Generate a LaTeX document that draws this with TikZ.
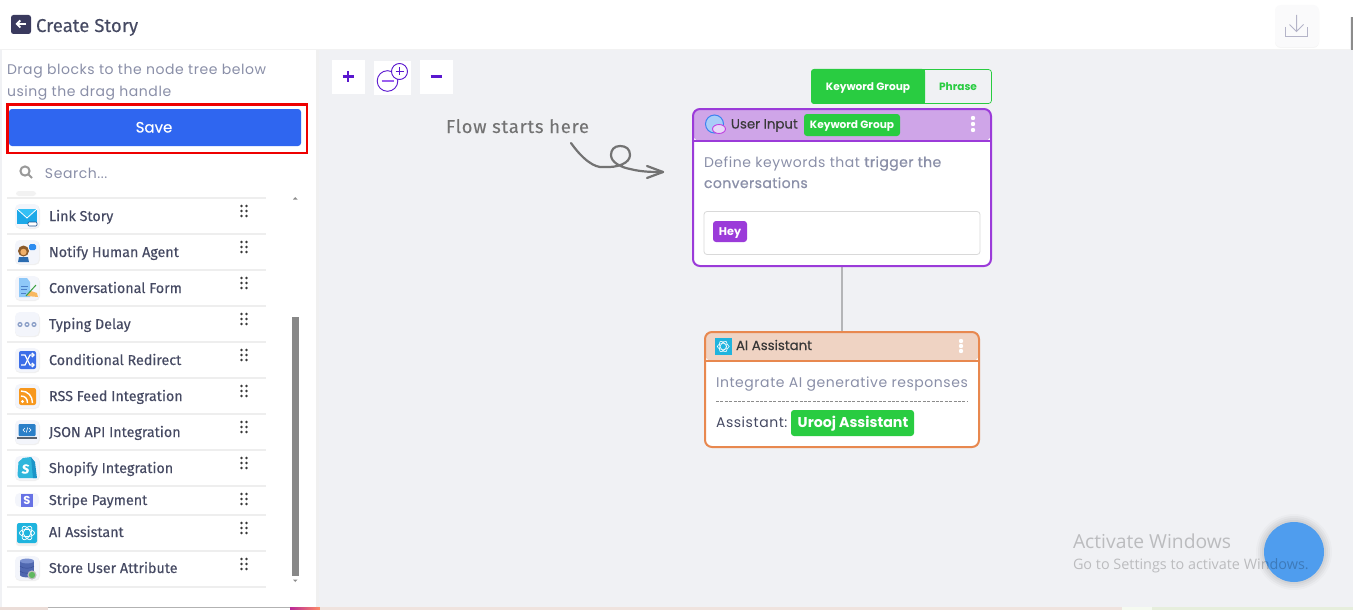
\documentclass[tikz,border=0pt]{standalone}
\usepackage{fontspec}
\setmainfont{Poppins}
\newfontfamily\pop{Poppins}
\newfontfamily\popm[FakeBold=0.25]{Poppins}
\newfontfamily\popls[LetterSpace=4]{Poppins}
\newfontfamily\poplsb[LetterSpace=3,FakeBold=0.7]{Poppins}
\newfontfamily\fira[FakeBold=0.25]{Fira Sans}
\newfontfamily\flowf[LetterSpace=4,FakeBold=0.1]{Fira Sans}
\newfontfamily\win{Open Sans}
\usetikzlibrary{arrows.meta}
\definecolor{canvas}{HTML}{F0F1F4}
\definecolor{grn}{HTML}{29CC41}
\definecolor{purp}{HTML}{9B3BD9}
\definecolor{purphd}{HTML}{CFA5E8}
\definecolor{orng}{HTML}{E8884F}
\definecolor{ornghd}{HTML}{EFD3C3}
\definecolor{blu}{HTML}{2F66F0}
\definecolor{mut}{HTML}{8A8FA8}
\definecolor{ink}{HTML}{464A63}
\definecolor{indi}{HTML}{5A17CF}
\definecolor{sep}{HTML}{EEEEEE}
\definecolor{tile}{HTML}{F3F5FB}
\definecolor{teal}{HTML}{1FB4DE}
\definecolor{bubA}{HTML}{A8CDF8}
\definecolor{bubB}{HTML}{E8D8F8}
\tikzset{
  HTML/.code={\definecolor{tmpc}{HTML}{#1}\tikzset{color=tmpc}},
  txt/.style={anchor=base west,inner sep=0pt,outer sep=0pt},
  ctxt/.style={anchor=base,inner sep=0pt,outer sep=0pt},
  desc/.style={txt,text=mut,font=\popls\fontsize{14}{14}\selectfont},
  menu/.style={txt,text=ink,font=\fira\fontsize{14.3}{14}\selectfont},
  hdtitle/.style={txt,text=black!78,font=\popm\fontsize{13.3}{14}\selectfont},
  tag/.style={ctxt,text=white,font=\pop\bfseries\fontsize{10.6}{12}\selectfont},
  conn/.style={draw=black!25!canvas,line width=1.6pt},
}
\newcommand{\griphandle}[2]{%
  \foreach \dy in {-5,0,5}{\foreach \dx in {-2.5,2.5}{\fill[black!78] (#1+\dx,#2+\dy) circle (1.45);}}}
\newcommand{\menutile}[1]{%
  \fill[black!6,rounded corners=5] (15,#1-11) rectangle (40,#1+13);
  \fill[tile,rounded corners=5] (15,#1-12) rectangle (39,#1+12);}
\begin{document}
\begin{tikzpicture}[x=1pt,y=-1pt]
\useasboundingbox (0,0) rectangle (1353,610);
% backgrounds
\fill[canvas] (0,0) rectangle (1353,610);
\fill[white] (0,0) rectangle (1350,49);
\fill[white] (1350,0) rectangle (1353,17);
\fill[black!45] (1350.5,17) rectangle (1353,50);
\fill[black!5] (0,49) rectangle (1350,50.5);
\fill[white] (2,50) rectangle (316,607);
\fill[black!6] (316,50) rectangle (319,607);
% bottom strip
\fill[HTML=EBDDD8] (0,607) rectangle (48,610);
\fill[white] (48,607) rectangle (290,610);
\fill[black!30] (48,607) rectangle (290,608);
\shade[left color=purp!70!red,right color=red!50!orange!60] (290,607) rectangle (320,610);
\fill[HTML=EFE3DE] (320,607) rectangle (1122,610);
\fill[HTML=E6EEDC] (1122,607) rectangle (1353,610);
\fill[HTML=F5FAF0] (1122,607) rectangle (1152,610);
% top bar
\fill[HTML=3A3A5E,rounded corners=2.5] (11,15) rectangle (31,34);
\draw[white,line width=1.8pt,-{Straight Barb[length=3.5pt,width=7pt]}] (26,24) -- (15.5,24);
\node[txt,text=ink,font=\fira\fontsize{18.6}{18}\selectfont] (title) at (36,32) {Create Story};
\fill[black!4,rounded corners=6] (1275,6) rectangle (1319,48);
\fill[HTML=FAFAFB,rounded corners=6] (1275,5) rectangle (1319,47);
\draw[HTML=B4B4C8,line width=1pt] (1285.5,27) -- (1285.5,36.5) -- (1307.5,36.5) -- (1307.5,27);
\draw[HTML=B4B4C8,line width=1pt] (1296.5,15) -- (1296.5,31.5) (1289.5,24.5) -- (1296.5,31.5) -- (1303.5,24.5);
% sidebar header
\node[desc] (drag1) at (7,75) {Drag blocks to the node tree below};
\node[desc] (drag2) at (7,96) {using the drag handle};
\draw[HTML=EE0000,line width=2.6pt] (7.3,104.3) rectangle (307,152.8);
\fill[blu,rounded corners=3] (9,109) rectangle (301,146);
\node[ctxt,text=white,font=\popm\fontsize{15}{15}\selectfont] (save) at (154,132.5) {Save};
\draw[black!40,line width=2pt] (25,171) circle (4.6) (28.5,174.5) -- (32,178);
\node[txt,text=mut,font=\popls\fontsize{14}{14}\selectfont] (search) at (45,178) {Search...};
% separators
\foreach \yy in {198,234,270,306,342,378,414,450,486,515,551,587}
  \fill[sep] (7,\yy-1) rectangle (266,\yy+1);
\fill[black!5,rounded corners=3] (16,191) rectangle (36,196);
% scrollbar
\fill[HTML=888888] (292,317) rectangle (299,576);
\fill[black!45] (293,199.5) -- (297.5,199.5) -- (295.25,197) -- cycle;
\fill[black!45] (293,579.5) -- (297.5,579.5) -- (295.25,582) -- cycle;
% menu rows
\foreach \nm/\lab/\yy/\hy in {
  a/Link Story/216/211,
  b/Notify Human Agent/252/247,
  c/Conversational Form/288/283,
  d/Typing Delay/324/319,
  e/Conditional Redirect/360/355,
  f/RSS Feed Integration/396/391,
  g/JSON API Integration/432/427,
  h/Shopify Integration/468/463,
  i/Stripe Payment/500/499,
  j/AI Assistant/532/528,
  k/Store User Attribute/568/564}{
  \node[menu] (row\nm) at (49,\yy+5) {\lab};
  \griphandle{244}{\hy}
}
% icons: Link Story
\menutile{216}
\fill[HTML=1CA8E8] (17,209) rectangle (37,224);
\fill[HTML=35C0F5] (17,209) -- (27,218) -- (37,209) -- cycle;
\draw[white,line width=.8pt] (17,209) -- (27,218) -- (37,209);
\draw[HTML=1B4F8A,fill=white,line width=.7pt,rounded corners=1] (28,222) rectangle (37,226);
% Notify Human Agent
\menutile{252}
\fill[HTML=8A5A2B] (23.5,251) circle (5.5);
\fill[HTML=F0B06A] (23.5,252) circle (3.2);
\fill[HTML=2B6CB0] (18,262) -- (19,257) -- (28,257) -- (29,262) -- cycle;
\fill[HTML=2D8CF0,rounded corners=1.5] (29,244) rectangle (36,250);
% Conversational Form
\menutile{288}
\fill[HTML=8EC8F8] (19,278) -- (27,278) -- (30,282) -- (30,297) -- (19,297) -- cycle;
\draw[HTML=4A80C8,line width=.8pt] (21,286) -- (28,286) (21,289.5) -- (27,289.5) (21,293) -- (26,293);
\fill[HTML=F8B860] (27,296) -- (31,291) -- (37,293) -- (38,297) -- cycle;
\draw[HTML=3CA040,line width=1pt] (26,296) -- (36,285);
% Typing Delay
\menutile{324}
\foreach \dx in {20,27,34}{\fill[HTML=8CA0C8] (\dx,324.5) circle (2.6);\fill[tile] (\dx,324.5) circle (1.1);}
% Conditional Redirect
\menutile{360}
\fill[HTML=3D6FE8,rounded corners=2] (19,351) rectangle (36,369);
\draw[white,line width=1.3pt,-{Straight Barb[length=2.2pt,width=4pt]}] (21,355) -- (25,355) -- (30,365) -- (35,365);
\draw[white,line width=1.3pt,-{Straight Barb[length=2.2pt,width=4pt]}] (21,365) -- (25,365) -- (30,355) -- (35,355);
% RSS
\menutile{396}
\fill[HTML=F7981D,rounded corners=2] (19,388) rectangle (36,405);
\fill[white] (22.5,401.5) circle (1.6);
\draw[white,line width=1.4pt] (21,396) .. controls (25,396) and (27.5,398.5) .. (27.5,403);
\draw[white,line width=1.4pt] (21,391) .. controls (28,391) and (32.5,396) .. (32.5,403);
% JSON
\menutile{432}
\fill[HTML=2A7FC8,rounded corners=1] (18.5,424) rectangle (35.5,436);
\draw[white,line width=.6pt] (25,428) -- (23,430) -- (25,432) (29,428) -- (31,430) -- (29,432) (27.7,427.5) -- (26.3,432.5);
\fill[HTML=5A6470] (17,436.5) rectangle (37,439);
% Shopify
\menutile{468}
\fill[HTML=2FB6DC] (18.5,462) -- (23,458) -- (31,457) -- (36,478) -- (19,478) -- (17.5,475) -- cycle;
\fill[HTML=1A94C8] (31,457) -- (35,462) -- (37,478) -- (33,478) -- cycle;
\node[ctxt,text=white,font=\fira\bfseries\itshape\fontsize{13}{13}\selectfont] (shopS) at (25.5,473.5) {S};
% Stripe
\fill[tile,rounded corners=5] (15,493) rectangle (39,507);
\fill[HTML=6772E5] (21,493.5) rectangle (33,506.5);
\node[ctxt,text=white,font=\pop\bfseries\fontsize{11.5}{12}\selectfont] (stripeS) at (27,504) {S};
% AI Assistant menu icon
\fill[black!6,rounded corners=3] (16,524) rectangle (38,546);
\fill[teal,rounded corners=2] (17,523) rectangle (37,543);
\foreach \a in {0,60,120}{\draw[white,line width=.7pt,rotate around={\a:(27,533)}] (27,533) ellipse [x radius=7.5,y radius=3.6];}
% Store User Attribute
\menutile{568}
\fill[HTML=5068B0] (20,561) rectangle (34,575);
\fill[HTML=5068B0] (27,575) ellipse [x radius=7,y radius=2.4];
\fill[HTML=7A90D0] (27,561) ellipse [x radius=7,y radius=2.4];
\draw[HTML=3A5098,line width=.5pt] (20,566) .. controls (22,569) and (32,569) .. (34,566) (20,571) .. controls (22,574) and (32,574) .. (34,571);
\fill[black!25] (32,575) circle (4.6);
\fill[HTML=60B860] (32,575) circle (3.2);
% zoom controls
\fill[white] (332,60) rectangle (365,94);
\draw[indi,line width=2.2pt] (342.5,76.5) -- (353.5,76.5) (348,71) -- (348,82);
\fill[white] (374,61) rectangle (411,95);
\draw[indi,line width=.9pt,fill=white] (387.5,81) circle (10.3);
\draw[HTML=9A60EE,line width=1.4pt] (381.5,81) -- (393.5,81);
\draw[indi,line width=.9pt,fill=white] (399.5,71.5) circle (8);
\draw[indi,line width=1.2pt] (395.5,71.5) -- (403.5,71.5) (399.5,67.5) -- (399.5,75.5);
\fill[white] (420,60) rectangle (453,94);
\draw[indi,line width=2.2pt] (430.5,76.5) -- (441.5,76.5);
% flow label and arrow
\node[txt,text=black!55,font=\flowf\fontsize{18.5}{18}\selectfont] (flow) at (446,133) {Flow starts here};
\coordinate (flowstart) at (571,143);
\coordinate (flowend) at (663,172);
\draw[black!55,line width=2.2pt,line cap=round,line join=round] (flowstart) .. controls (583,160) and (595,168) .. (603,167) .. controls (618,168) and (630,163) .. (630,155) .. controls (630,149) and (626,146) .. (620,146) .. controls (614,146) and (611,150) .. (611,155) .. controls (611,162) and (620,167) .. (630,169) .. controls (642,172) and (652,172) .. (flowend);
\draw[black!55,line width=2.2pt,line cap=round,line join=round] (647,166) -- (flowend) -- (647,178);
% connector
\coordinate (ui) at (842,266);
\coordinate (ai) at (842,332);
\draw[conn] (ui) -- (ai);
% toggle
\fill[black!5,rounded corners=3] (811,70) rectangle (992,106);
\draw[grn,fill=canvas,rounded corners=3,line width=.7pt] (811.5,69.5) rectangle (991.5,103.5);
\fill[grn,rounded corners=3] (811,69) rectangle (925,104);
\fill[grn] (915,69) rectangle (925,104);
\node[ctxt,text=white,font=\pop\bfseries\fontsize{10.6}{12}\selectfont] (tgk) at (868,90.5) {Keyword Group};
\node[ctxt,text=grn,font=\pop\bfseries\fontsize{10.6}{12}\selectfont] (tgp) at (958,90.5) {Phrase};
% User Input card
\fill[white,rounded corners=7] (693,109) rectangle (991,266);
\begin{scope}
\clip[rounded corners=7] (693,109) rectangle (991,141);
\fill[purphd] (693,109) rectangle (991,141);
\end{scope}
\draw[purp,line width=2pt,rounded corners=7] (693,109) rectangle (991,266);
\draw[purp,line width=2pt] (693,141) -- (991,141);
\draw[HTML=3C82F0,line width=1pt,fill=bubA] (714.5,124) circle (9);
\draw[HTML=C040E0,line width=.9pt,fill=bubB] (719,129) ellipse [x radius=6.5,y radius=4.5];
\node[hdtitle] (uititle) at (731,128.5) {User Input};
\fill[grn,rounded corners=3] (804,114) rectangle (900,136);
\node[tag] (uitag) at (852,128.5) {Keyword Group};
\foreach \yy in {118,124,130}\fill[white] (973,\yy) circle (2.2);
\node[desc] (uid1) at (704,167) {Define keywords that {\poplsb trigger the}};
\node[desc] (uid2) at (704,188) {{\poplsb conversations}};
\draw[black!15,fill=white,rounded corners=3,line width=.8pt] (704,211.5) rectangle (980,254.5);
\fill[purp,rounded corners=3] (713,221) rectangle (747,242);
\node[tag,font=\pop\bfseries\fontsize{11.2}{12}\selectfont] (hey) at (730,235.5) {Hey};
% AI Assistant card
\fill[white,rounded corners=7] (705,332) rectangle (979,447);
\begin{scope}
\clip[rounded corners=7] (705,332) rectangle (979,361);
\fill[ornghd] (705,332) rectangle (979,361);
\end{scope}
\draw[orng,line width=2pt,rounded corners=7] (705,332) rectangle (979,447);
\draw[orng,line width=2pt] (705,361) -- (979,361);
\fill[teal] (715,338) rectangle (731.5,355);
\foreach \a in {0,60,120}{\draw[white,line width=.55pt,rotate around={\a:(723.2,346.5)}] (723.2,346.5) ellipse [x radius=6,y radius=2.9];}
\node[hdtitle] (aititle) at (736,350) {AI Assistant};
\foreach \yy in {341,346,351}\fill[white] (961,\yy) circle (2.2);
\node[desc] (aid1) at (716,387) {Integrate AI generative responses};
\draw[black!45,line width=.6pt,dash pattern=on 3pt off 1.4pt] (716,401.5) -- (968,401.5);
\node[txt,text=ink,font=\popls\fontsize{14}{14}\selectfont] (aid2) at (716,427) {Assistant:};
\fill[grn,rounded corners=3] (791,410) rectangle (914,436);
\node[ctxt,text=white,font=\pop\bfseries\fontsize{14.2}{14}\selectfont] (aitag) at (853,427.5) {Urooj Assistant};
% chat bubble
\foreach \r/\o in {38/.02,36/.03,34/.03,32/.04}\fill[black,opacity=\o] (1294,552) circle (\r);
\fill[HTML=4F9DEE] (1294,552) circle (30);
% activation watermark
\node[txt,text=black,opacity=.22,font=\win\fontsize{19.3}{20}\selectfont] (act1) at (1073,548) {Activate Windows};
\node[txt,text=black,opacity=.22,font=\win\fontsize{14.4}{14}\selectfont] (act2) at (1073,569) {Go to Settings to activate Windows.};
\end{tikzpicture}
\end{document}
